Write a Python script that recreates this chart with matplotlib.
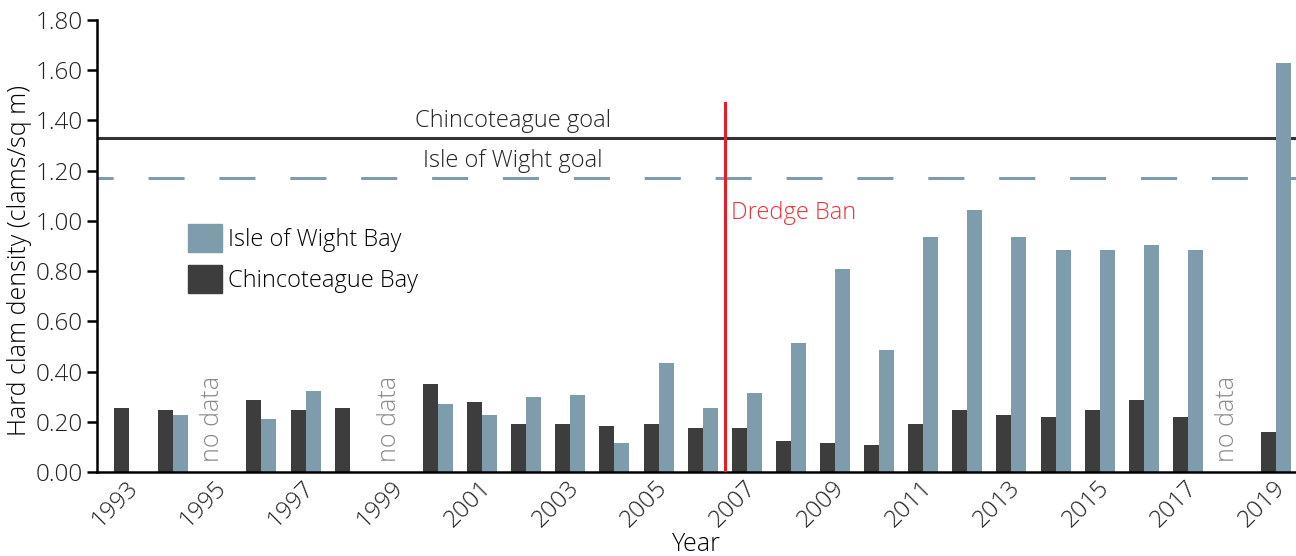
import matplotlib
matplotlib.use("Agg")
import matplotlib.pyplot as plt
from matplotlib.patches import Patch
import numpy as np

plt.rcParams['font.family'] = ['Open Sans', 'DejaVu Sans']

years = list(range(1993, 2020))
# None = no bar drawn for that year
chincoteague = [0.255, 0.247, None, 0.287, 0.247, 0.255, None, 0.35, 0.279, 0.19,
                0.19, 0.183, 0.19, 0.175, 0.175, 0.124, 0.116, 0.108, 0.19, 0.247,
                0.227, 0.219, 0.247, 0.287, 0.219, None, 0.159]
isle_of_wight = [None, 0.227, None, 0.211, 0.323, None, None, 0.27, 0.227, 0.30,
                 0.307, 0.116, 0.434, 0.255, 0.315, 0.514, 0.809, 0.486, 0.936, 1.044,
                 0.936, 0.884, 0.884, 0.904, 0.884, None, 1.63]
no_data_years = [1995, 1999, 2018]
chin_goal = 1.33
iow_goal = 1.17
ban_year = 2006.5

c_chin = '#3d3d3d'
c_iow = '#7f9cad'
w = 0.34

fig = plt.figure(figsize=(12.96, 5.56), dpi=100)
ax = fig.add_axes([0.0748, 0.151, 0.9252, 0.813])

yr = np.array(years, dtype=float)
ch = np.array([np.nan if v is None else v for v in chincoteague])
iw = np.array([np.nan if v is None else v for v in isle_of_wight])
ax.bar(yr - w / 2, ch, width=w, color=c_chin, zorder=2)
ax.bar(yr + w / 2, iw, width=w, color=c_iow, zorder=2)

ax.axhline(chin_goal, color='#333333', lw=2.2, zorder=1)
ax.axhline(iow_goal, color=c_iow, lw=2.2, linestyle=(6.5, (11.8, 11.4)), zorder=1)
ax.text(2001.7, chin_goal + 0.02, 'Chincoteague goal', ha='center', va='bottom',
        fontsize=17, fontweight='light', color='#222222')
ax.text(2001.7, iow_goal + 0.02, 'Isle of Wight goal', ha='center', va='bottom',
        fontsize=17, fontweight='light', color='#222222')

ax.plot([ban_year, ban_year], [0, 1.47], color='#e41e26', lw=2.2, zorder=3)
ax.text(ban_year + 0.15, 1.03, 'Dredge Ban', color='#ec3039', fontsize=17,
        fontweight='light', va='center', ha='left')

for y in no_data_years:
    ax.text(y - 0.1, 0.04, 'no data', rotation=90, ha='center', va='bottom',
            fontsize=18, fontweight='light', color='#888888')

ax.set_xlim(1992.27, 2019.45)
ax.set_ylim(0, 1.8)
ax.set_yticks(np.arange(0, 1.81, 0.2))
ax.set_yticklabels(['%.2f' % v for v in np.arange(0, 1.81, 0.2)])
tick_years = years[::2]
ax.set_xticks([y - w / 2 - 0.15 for y in tick_years])
ax.set_xticklabels([str(y) for y in tick_years], rotation=45, ha='center')

for s in ['top', 'right']:
    ax.spines[s].set_visible(False)
for s in ['left', 'bottom']:
    ax.spines[s].set_linewidth(1.8)
ax.tick_params(axis='y', length=7, width=1.8, labelsize=17.5, pad=3)
ax.tick_params(axis='x', length=0, labelsize=17.5, pad=3)
for lab in ax.get_xticklabels() + ax.get_yticklabels():
    lab.set_fontweight('light')
    lab.set_color('#222222')

ax.set_xlabel('Year', fontsize=18, fontweight='light', labelpad=0)
ax.set_ylabel('Hard clam density (clams/sq m)', fontsize=18, fontweight='light')
ax.yaxis.set_label_coords(-0.054, 0.469)

handles = [Patch(color=c_iow), Patch(color=c_chin)]
ax.legend(handles, ['Isle of Wight Bay', 'Chincoteague Bay'], frameon=False,
          loc='upper left', bbox_to_anchor=(0.062, 0.585),
          handlelength=1.44, handleheight=1.44, handletextpad=0.25, labelspacing=0.55,
          borderaxespad=0.3, prop={'weight': 'light', 'size': 17})

fig.savefig('out.png', dpi=100)
